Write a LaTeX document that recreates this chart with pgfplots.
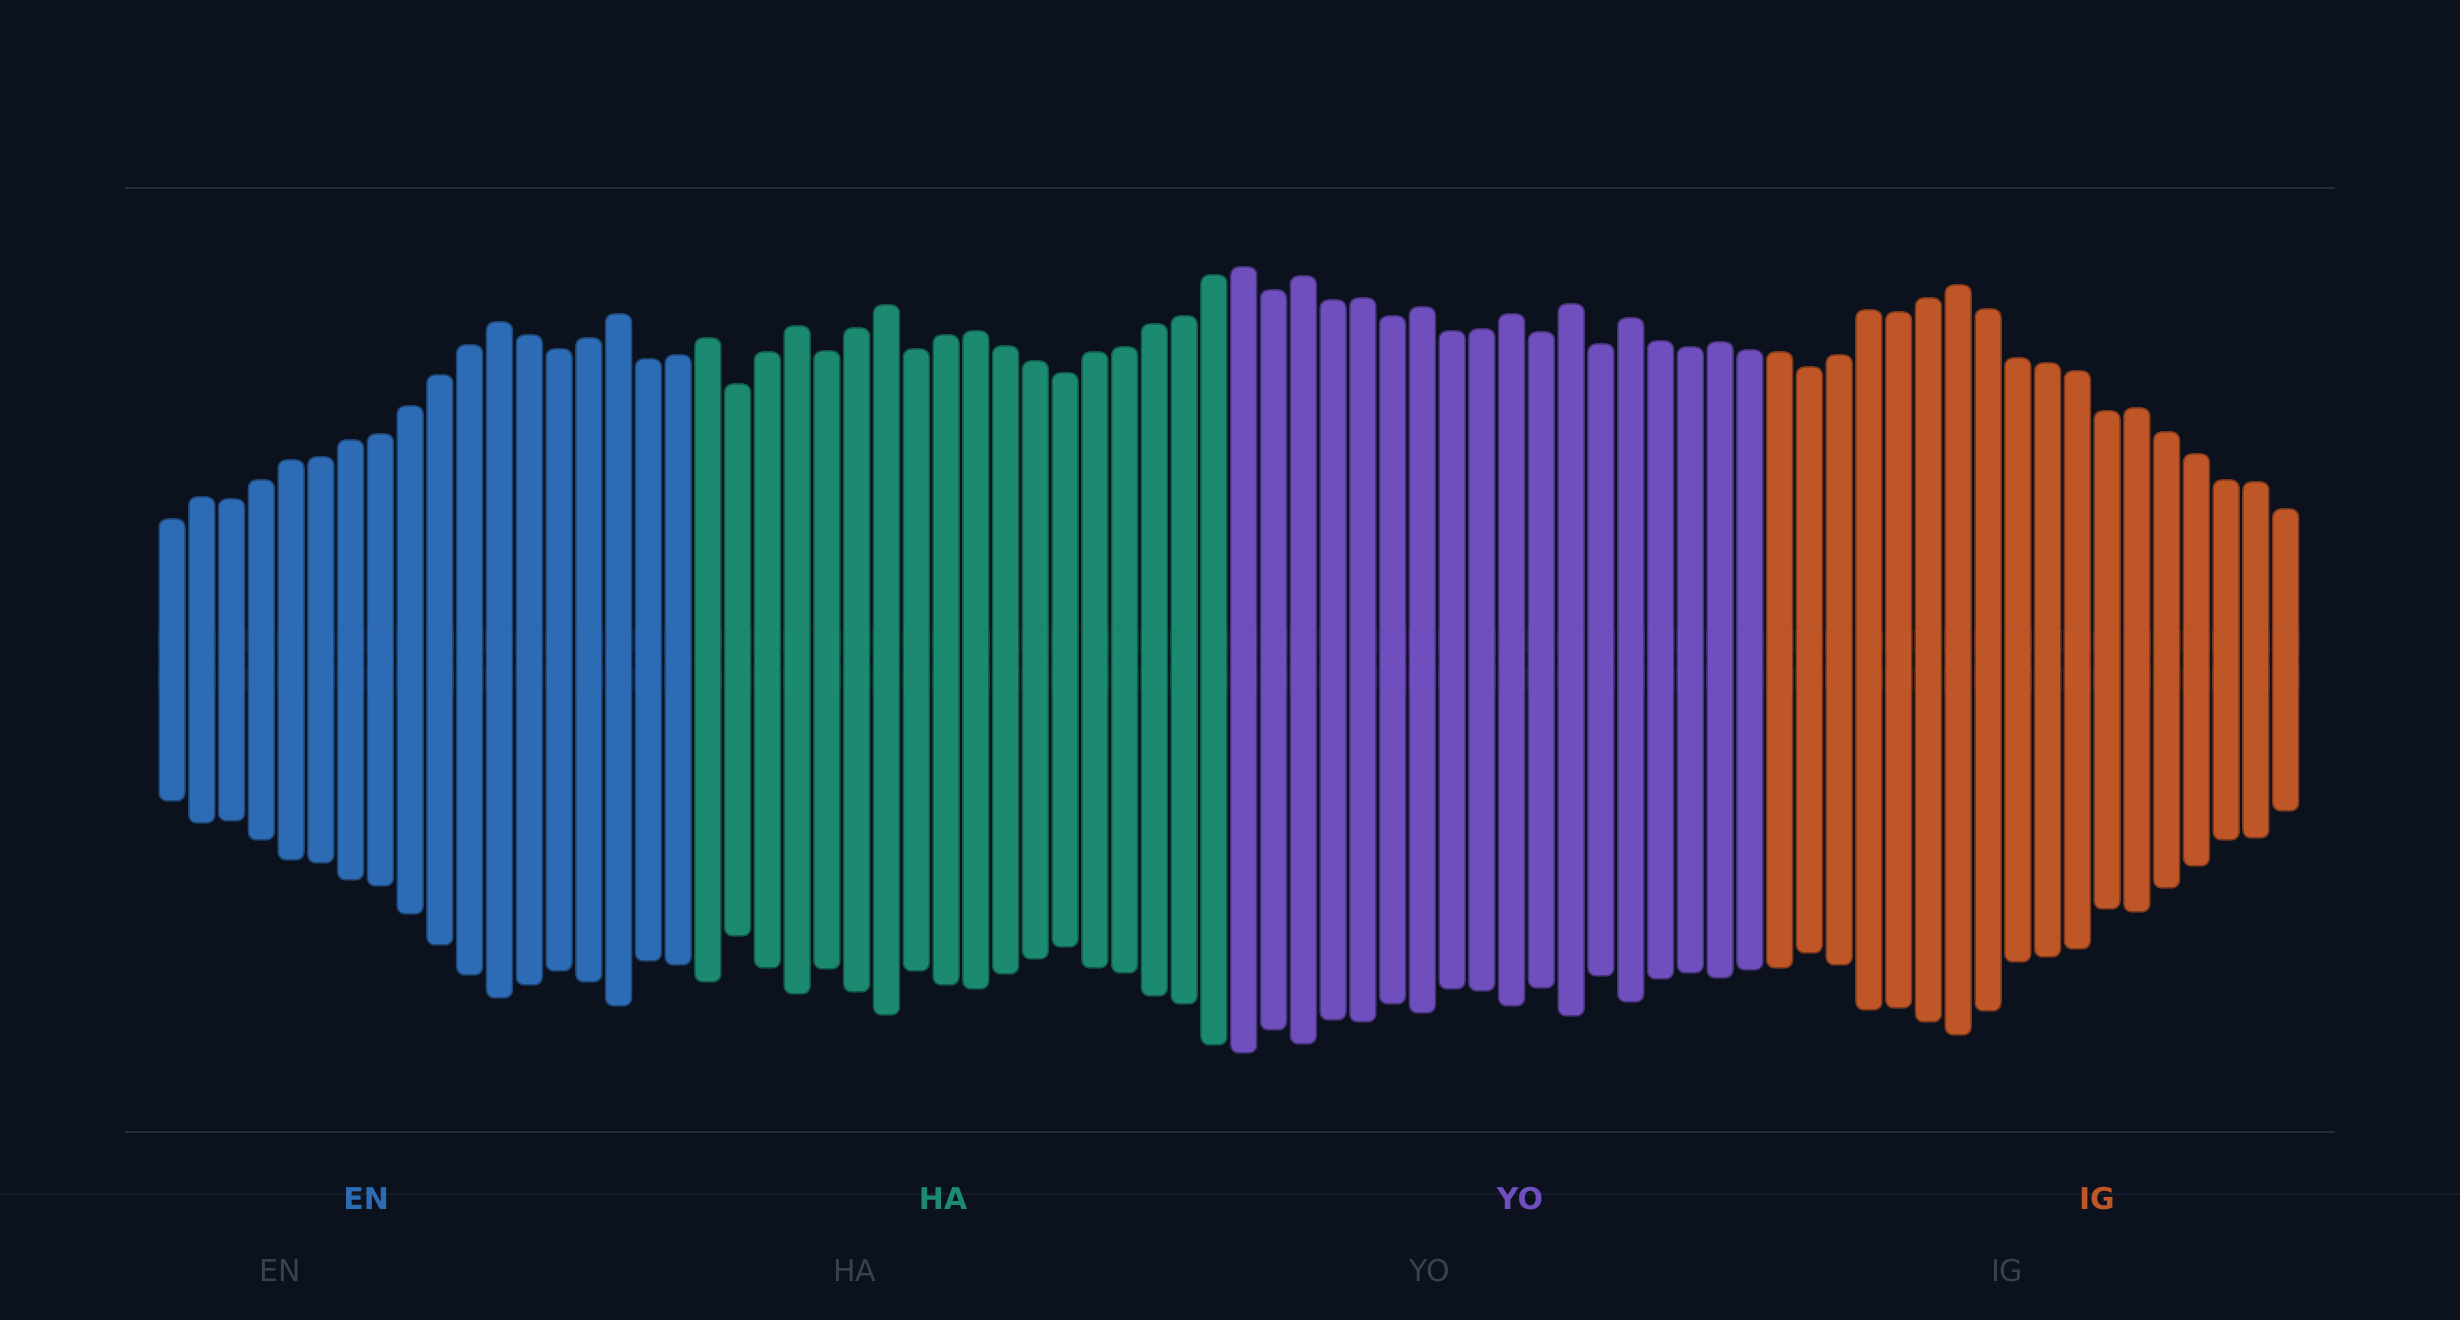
\documentclass[border=0pt]{standalone}
\usepackage{fontspec}
\setmainfont{DejaVu Sans}
\usepackage{pgfplots}
\pgfplotsset{compat=1.18}
\usepackage{pgfplotstable}
\definecolor{bg}{HTML}{0B111D}
\definecolor{gridc}{HTML}{1E2E3B}
\definecolor{sepc}{HTML}{141C2A}
\definecolor{labgrey}{HTML}{3A404D}
\definecolor{cEN}{HTML}{2E6BB5}
\definecolor{cHA}{HTML}{1B8A71}
\definecolor{cYO}{HTML}{6F4EBD}
\definecolor{cIG}{HTML}{BF5628}

\pgfplotstableread{
x h
0 141
1 163
2 161
3 180
4 200
5 203
6 220
7 226
8 254
9 285
10 315
11 338
12 325
13 311
14 322
15 346
16 301
17 305
}\dataEN
\pgfplotstableread{
x h
18 322
19 276
20 308
21 334
22 309
23 332
24 355
25 311
26 325
27 329
28 314
29 299
30 287
31 308
32 313
33 336
34 344
35 385
}\dataHA
\pgfplotstableread{
x h
36 393
37 370
38 384
39 360
40 362
41 344
42 353
43 329
44 331
45 346
46 328
47 356
48 316
49 342
50 319
51 313
52 318
53 310
}\dataYO
\pgfplotstableread{
x h
54 308
55 293
56 305
57 350
58 348
59 362
60 375
61 351
62 302
63 297
64 289
65 249
66 252
67 228
68 206
69 180
70 178
71 151
}\dataIG

\pgfplotsset{
  halfbar/.style={ybar, bar width=13pt, bar shift=0pt, fill=#1, draw=#1!65!black, line width=0.75pt, rounded corners=4pt, mark=none},
  corerim/.style={ybar, bar width=13.75pt, bar shift=0pt, fill=#1!65!black, draw=none, sharp corners, mark=none, forget plot},
  corebar/.style={ybar, bar width=12.25pt, bar shift=0pt, fill=#1, draw=none, sharp corners, mark=none, forget plot},
}

\newcommand{\group}[2]{%
  \addplot[halfbar=#2] table[x=x,y=h]{#1};
  \addplot[halfbar=#2] table[x=x,y expr=-\thisrow{h}]{#1};
  \addplot[corerim=#2] table[x=x,y expr=30]{#1};
  \addplot[corerim=#2] table[x=x,y expr=-30]{#1};
  \addplot[corebar=#2] table[x=x,y expr=30]{#1};
  \addplot[corebar=#2] table[x=x,y expr=-30]{#1};
}

\begin{document}
\begin{tikzpicture}
\useasboundingbox (0,0) rectangle (1230pt,660pt);
\fill[bg] (0,0) rectangle (1230pt,660pt);
\draw[sepc, line width=1pt] (0,63pt) -- (1230pt,63pt);
\begin{axis}[
  at={(62.5pt,94pt)}, anchor=south west,
  scale only axis, width=1105pt, height=472pt,
  xmin=-1.579, xmax=72.66, ymin=-472, ymax=472,
  clip=false,
  axis line style={draw=none},
  xtick=\empty, ytick={-472,472}, yticklabels={},
  major tick length=0pt,
  ymajorgrids, major grid style={draw=gridc, line width=1pt},
]
\group{\dataEN}{cEN}
\group{\dataHA}{cHA}
\group{\dataYO}{cYO}
\group{\dataIG}{cIG}

\node[font=\bfseries\fontsize{15}{18}\selectfont, text=cEN] at (axis cs:6.52,-539) {EN};
\node[font=\bfseries\fontsize{15}{18}\selectfont, text=cHA] at (axis cs:25.90,-539) {HA};
\node[font=\bfseries\fontsize{15}{18}\selectfont, text=cYO] at (axis cs:45.28,-539) {YO};
\node[font=\bfseries\fontsize{15}{18}\selectfont, text=cIG] at (axis cs:64.66,-539) {IG};

\node[font=\fontsize{15}{18}\selectfont, text=labgrey] at (axis cs:3.63,-611) {EN};
\node[font=\fontsize{15}{18}\selectfont, text=labgrey] at (axis cs:22.94,-611) {HA};
\node[font=\fontsize{15}{18}\selectfont, text=labgrey] at (axis cs:42.26,-611) {YO};
\node[font=\fontsize{15}{18}\selectfont, text=labgrey] at (axis cs:61.64,-611) {IG};
\end{axis}
\end{tikzpicture}
\end{document}
